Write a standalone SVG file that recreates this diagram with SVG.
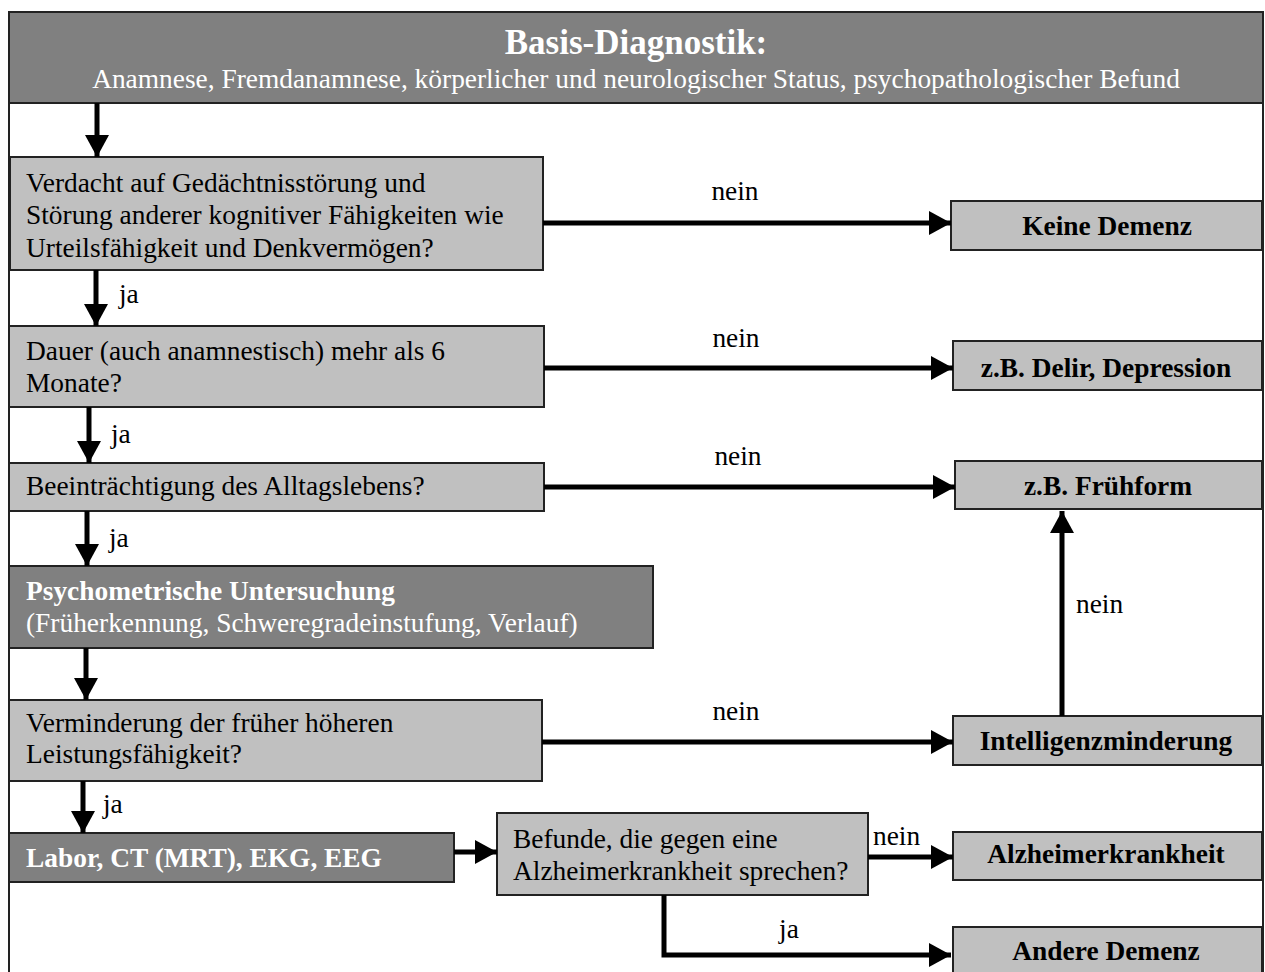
<svg xmlns="http://www.w3.org/2000/svg" width="1265" height="972" viewBox="0 0 1265 972">
<defs>
<marker id="ah" markerUnits="userSpaceOnUse" markerWidth="23" markerHeight="24" refX="22" refY="12" orient="auto">
<path d="M0,0 L22,12 L0,24 z" fill="#000"/>
</marker>
<style>
.t{font-family:"Liberation Serif","Times New Roman",serif;font-size:27.4px;fill:#000}
.b{font-weight:bold}
.w{fill:#fff}
.light{fill:#c0c0c0;stroke:#222;stroke-width:2}
.dark{fill:#808080;stroke:#222;stroke-width:2}
.c{stroke:#000;stroke-width:5;fill:none;marker-end:url(#ah)}
.m{text-anchor:middle}
</style>
</defs>
<rect x="0" y="0" width="1265" height="972" fill="#fff"/>
<rect x="9" y="12" width="1254" height="990" fill="none" stroke="#222" stroke-width="2"/>

<g id="header">
<rect class="dark" x="9" y="12" width="1254" height="91"/>
<text class="t b w m" x="636" y="54" style="font-size:35px">Basis-Diagnostik:</text>
<text class="t w m" x="636" y="88">Anamnese, Fremdanamnese, körperlicher und neurologischer Status, psychopathologischer Befund</text>
</g>

<g id="q1">
<rect class="light" x="10" y="157" width="533" height="113"/>
<text class="t" x="26" y="192">Verdacht auf Gedächtnisstörung und</text>
<text class="t" x="26" y="224">Störung anderer kognitiver Fähigkeiten wie</text>
<text class="t" x="26" y="257">Urteilsfähigkeit und Denkvermögen?</text>
</g>

<g id="keine-demenz">
<rect class="light" x="951" y="201" width="311" height="49"/>
<text class="t b m" x="1107" y="235">Keine Demenz</text>
</g>

<g id="q2">
<rect class="light" x="9" y="326" width="535" height="81"/>
<text class="t" x="26" y="360">Dauer (auch anamnestisch) mehr als 6</text>
<text class="t" x="26" y="392">Monate?</text>
</g>

<g id="delir">
<rect class="light" x="953" y="341" width="309" height="49"/>
<text class="t b m" x="1106" y="377">z.B. Delir, Depression</text>
</g>

<g id="q3">
<rect class="light" x="9" y="463" width="535" height="48"/>
<text class="t" x="26" y="495">Beeinträchtigung des Alltagslebens?</text>
</g>

<g id="fruehform">
<rect class="light" x="955" y="461" width="307" height="48"/>
<text class="t b m" x="1108" y="495">z.B. Frühform</text>
</g>

<g id="psychometrie">
<rect class="dark" x="9" y="566" width="644" height="82"/>
<text class="t b w" x="26" y="600">Psychometrische Untersuchung</text>
<text class="t w" x="26" y="632">(Früherkennung, Schweregradeinstufung, Verlauf)</text>
</g>

<g id="q4">
<rect class="light" x="9" y="700" width="533" height="81"/>
<text class="t" x="26" y="732">Verminderung der früher höheren</text>
<text class="t" x="26" y="763">Leistungsfähigkeit?</text>
</g>

<g id="intelligenz">
<rect class="light" x="953" y="716" width="309" height="49"/>
<text class="t b m" x="1106" y="750">Intelligenzminderung</text>
</g>

<g id="labor">
<rect class="dark" x="9" y="833" width="445" height="49"/>
<text class="t b w" x="26" y="867">Labor, CT (MRT), EKG, EEG</text>
</g>

<g id="q5">
<rect class="light" x="497" y="813" width="371" height="82"/>
<text class="t" x="513" y="848">Befunde, die gegen eine</text>
<text class="t" x="513" y="880">Alzheimerkrankheit sprechen?</text>
</g>

<g id="alzheimer">
<rect class="light" x="953" y="832" width="309" height="48"/>
<text class="t b m" x="1106" y="863">Alzheimerkrankheit</text>
</g>

<g id="andere">
<rect class="light" x="953" y="927" width="309" height="60"/>
<text class="t b m" x="1106" y="960">Andere Demenz</text>
</g>

<g id="connectors">
<path class="c" d="M97,103 V157"/>
<path class="c" d="M543,223 H951"/>
<path class="c" d="M96,270 V326"/>
<path class="c" d="M544,368 H953"/>
<path class="c" d="M89,407 V463"/>
<path class="c" d="M544,487 H955"/>
<path class="c" d="M87,511 V566"/>
<path class="c" d="M86,648 V700"/>
<path class="c" d="M542,742 H953"/>
<path class="c" d="M1062,716 V511"/>
<path class="c" d="M83,781 V833"/>
<path class="c" d="M454,852 H497"/>
<path class="c" d="M868,857 H953"/>
<path class="c" d="M664,895 V955 H951"/>
<text class="t m" x="735" y="200">nein</text>
<text class="t" x="119" y="303">ja</text>
<text class="t m" x="736" y="347">nein</text>
<text class="t" x="111" y="443">ja</text>
<text class="t m" x="738" y="465">nein</text>
<text class="t" x="109" y="547">ja</text>
<text class="t m" x="736" y="720">nein</text>
<text class="t" x="1076" y="613">nein</text>
<text class="t" x="103" y="813">ja</text>
<text class="t" x="873" y="845">nein</text>
<text class="t m" x="789" y="938">ja</text>
</g>
</svg>
